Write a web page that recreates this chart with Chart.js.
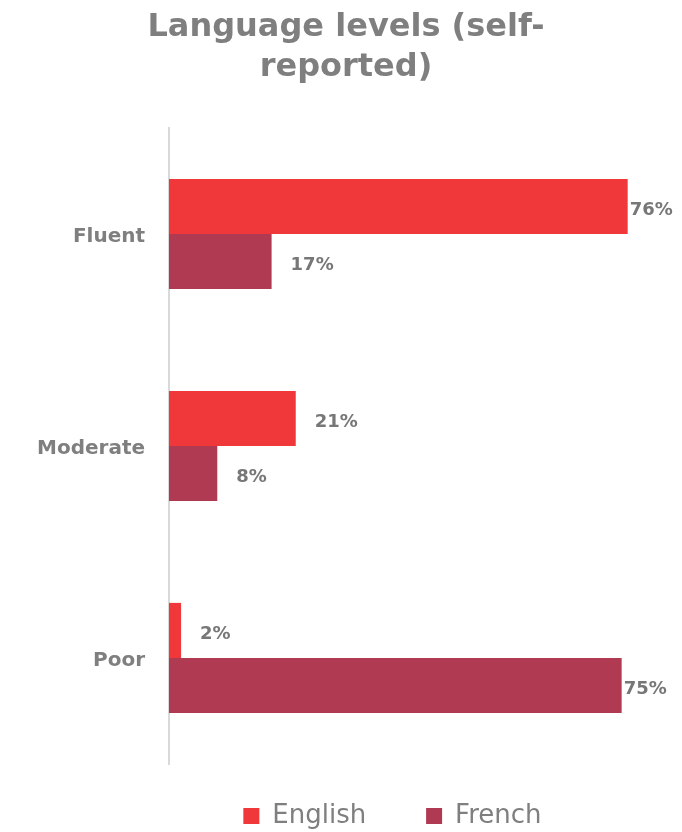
<!DOCTYPE html>
<html>
<head>
<meta charset="utf-8">
<script src="https://cdn.jsdelivr.net/npm/chart.js@4.4.0/dist/chart.umd.min.js"></script>
<title>Language levels</title>
<style>
    body { margin: 0; background: #fff; }
    #chart_container { width: 682px; height: 832px; }
</style>
</head>
<body>
<div id="chart_container">
    <canvas id="levels_chart"></canvas>
</div>
<script>
var levels = ["Fluent", "Moderate", "Poor"];
var english = [76, 21, 2];
var french = [17, 8, 75];
var seriesNames = ["English", "French"];

var gray = "#7f7f7f";
var fontName = "DejaVu Sans";

// percentage next to the end of each bar, pulled back in when it would run off the canvas
var valueLabels = {
    id: "valueLabels",
    afterDatasetsDraw: function(chart) {
        var ctx = chart.ctx;
        ctx.save();
        ctx.font = "bold 18px '" + fontName + "'";
        ctx.fillStyle = "#777777";
        ctx.textBaseline = "middle";
        chart.data.datasets.forEach(function(ds, i) {
            chart.getDatasetMeta(i).data.forEach(function(bar, j) {
                var text = ds.data[j] + "%";
                var w = ctx.measureText(text).width;
                var x = bar.x + 19;
                if (x + w > chart.width - 8) x = bar.x + 2;
                ctx.fillText(text, x, bar.y + 4);
            });
        });
        ctx.restore();
    }
};

var ctx = document.getElementById("levels_chart");
var levels_chart = new Chart(ctx, {
    type: "bar",
    data: {
        labels: levels,
        datasets: [
            { label: seriesNames[0], data: english, backgroundColor: "#f03739" },
            { label: seriesNames[1], data: french, backgroundColor: "#b03a52" }
        ]
    },
    options: {
        indexAxis: "y",
        responsive: true,
        maintainAspectRatio: false,
        animation: false,
        layout: { padding: { left: 10, right: 0, top: 0, bottom: -7 } },
        datasets: { bar: { categoryPercentage: 0.52, barPercentage: 1 } },
        scales: {
            x: {
                min: 0, max: 85,
                grid: { display: false },
                border: { display: false },
                ticks: { display: false },
                // empty strip between the bars and the legend
                afterFit: function(scale) { scale.height = 37; }
            },
            y: {
                grid: { display: false },
                border: { display: true, color: "#d9d9d9", width: 2 },
                ticks: { color: gray, font: { family: fontName, size: 20, weight: "bold" }, padding: 16, labelOffset: 3 },
                afterFit: function(scale) { scale.width = 159; }
            }
        },
        plugins: {
            title: {
                display: true,
                text: ["Language levels (self-", "reported)"],
                color: gray,
                font: { family: fontName, size: 32, weight: "bold", lineHeight: 1.25 },
                padding: { top: 8, bottom: 40 }
            },
            legend: {
                position: "bottom",
                fullSize: false,
                labels: {
                    color: gray,
                    font: { family: fontName, size: 26 },
                    boxWidth: 16,
                    boxHeight: 16,
                    padding: 2,
                    generateLabels: function(chart) {
                        var items = Chart.defaults.plugins.legend.labels.generateLabels(chart);
                        // trailing spaces widen the gap between the two entries
                        items[0].text += "       ";
                        items[1].text += "        ";
                        return items;
                    }
                }
            },
            tooltip: { enabled: false }
        }
    },
    plugins: [valueLabels]
});
</script>
</body>
</html>
